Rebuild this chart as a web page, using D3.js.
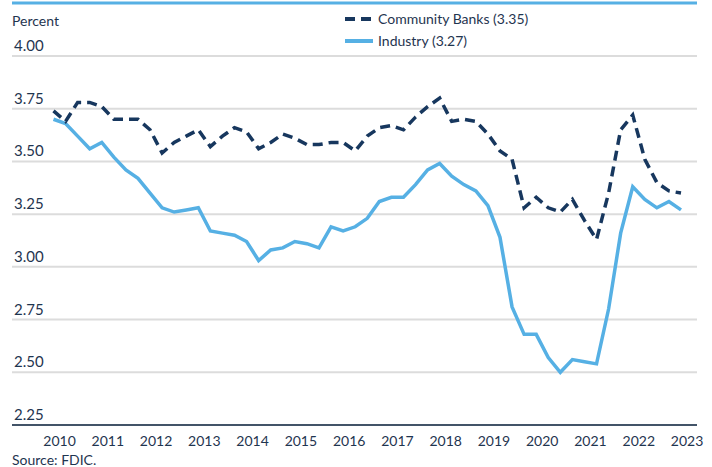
<!DOCTYPE html>
<html>
<head>
<meta charset="utf-8">
<script src="https://cdn.jsdelivr.net/npm/d3@7"></script>
<style>
  body { margin: 0; background: #fff; }
  svg { display: block; font-family: Lato, "Open Sans", sans-serif; }
</style>
</head>
<body>
<svg></svg>
<script>
// net interest margin, quarterly, 2010Q4 - 2023Q4
const quarters = [
  "2010Q4",
  "2011Q1","2011Q2","2011Q3","2011Q4","2012Q1","2012Q2","2012Q3","2012Q4",
  "2013Q1","2013Q2","2013Q3","2013Q4","2014Q1","2014Q2","2014Q3","2014Q4",
  "2015Q1","2015Q2","2015Q3","2015Q4","2016Q1","2016Q2","2016Q3","2016Q4",
  "2017Q1","2017Q2","2017Q3","2017Q4","2018Q1","2018Q2","2018Q3","2018Q4",
  "2019Q1","2019Q2","2019Q3","2019Q4","2020Q1","2020Q2","2020Q3","2020Q4",
  "2021Q1","2021Q2","2021Q3","2021Q4","2022Q1","2022Q2","2022Q3","2022Q4",
  "2023Q1","2023Q2","2023Q3","2023Q4"
];

const communityBanks = [
  3.74, 3.69, 3.78, 3.78, 3.76, 3.70, 3.70, 3.70, 3.65, 3.54,
  3.59, 3.62, 3.65, 3.57, 3.62, 3.66, 3.64, 3.56, 3.59, 3.63,
  3.61, 3.58, 3.58, 3.59, 3.59, 3.55, 3.62, 3.66, 3.67, 3.65,
  3.71, 3.76, 3.80, 3.69, 3.70, 3.69, 3.63, 3.55, 3.51, 3.28,
  3.33, 3.28, 3.26, 3.32, 3.22, 3.13, 3.35, 3.65, 3.72, 3.51,
  3.40, 3.36, 3.35
];

const industry = [
  3.70, 3.68, 3.62, 3.56, 3.59, 3.52, 3.46, 3.42, 3.35, 3.28,
  3.26, 3.27, 3.28, 3.17, 3.16, 3.15, 3.12, 3.03, 3.08, 3.09,
  3.12, 3.11, 3.09, 3.19, 3.17, 3.19, 3.23, 3.31, 3.33, 3.33,
  3.39, 3.46, 3.49, 3.43, 3.39, 3.36, 3.29, 3.14, 2.81, 2.68,
  2.68, 2.57, 2.50, 2.56, 2.55, 2.54, 2.80, 3.16, 3.38, 3.32,
  3.28, 3.31, 3.27
];

const years = [2010, 2011, 2012, 2013, 2014, 2015, 2016, 2017, 2018, 2019, 2020, 2021, 2022, 2023];
const yTicks = [2.25, 2.50, 2.75, 3.00, 3.25, 3.50, 3.75, 4.00];

const width = 712, height = 467;
const navy = "#17375e";
const lightBlue = "#56b0e4";
const textColor = "#1f3550";

const svg = d3.select("svg")
  .attr("width", width)
  .attr("height", height);

const left = 12, right = 697;

const x = d3.scalePoint()
  .domain(quarters)
  .range([53.5, 681]);

const y = d3.scaleLinear()
  .domain([2.25, 4.00])
  .range([425, 56]);

// top rule
svg.append("line")
  .attr("x1", left).attr("x2", right)
  .attr("y1", 3).attr("y2", 3)
  .attr("stroke", lightBlue)
  .attr("stroke-width", 3);

// gridlines
svg.selectAll(".grid")
  .data(yTicks.filter(d => d > 2.25))
  .enter().append("line")
  .attr("class", "grid")
  .attr("x1", left).attr("x2", right)
  .attr("y1", d => y(d)).attr("y2", d => y(d))
  .attr("stroke", "#dcdcdc")
  .attr("stroke-width", 2);

// y labels sit above their gridline
svg.selectAll(".ylab")
  .data(yTicks)
  .enter().append("text")
  .attr("class", "ylab")
  .attr("x", 14)
  .attr("y", d => y(d) - 5)
  .attr("font-size", 15)
  .attr("fill", textColor)
  .text(d => d3.format(".2f")(d));

// bottom axis line
svg.append("line")
  .attr("x1", left).attr("x2", right)
  .attr("y1", y(2.25)).attr("y2", y(2.25))
  .attr("stroke", "#435468")
  .attr("stroke-width", 2);

// year labels, between Q4 and the next Q1
svg.selectAll(".xlab")
  .data(years)
  .enter().append("text")
  .attr("class", "xlab")
  .attr("x", d => x(d + "Q4") + x.step() / 2)
  .attr("y", 446)
  .attr("text-anchor", "middle")
  .attr("font-size", 14)
  .attr("fill", textColor)
  .text(d => d);

const line = d3.line()
  .x((d, i) => x(quarters[i]))
  .y(d => y(d));

svg.append("path")
  .datum(industry)
  .attr("d", line)
  .attr("fill", "none")
  .attr("stroke", lightBlue)
  .attr("stroke-width", 3.5)
  .attr("stroke-linejoin", "miter");

svg.append("path")
  .datum(communityBanks)
  .attr("d", line)
  .attr("fill", "none")
  .attr("stroke", navy)
  .attr("stroke-width", 3.5)
  .attr("stroke-dasharray", "10,6");

// Percent label
svg.append("text")
  .attr("x", 12)
  .attr("y", 26)
  .attr("font-size", 14)
  .attr("fill", textColor)
  .text("Percent");

// legend
const legend = svg.append("g").attr("transform", "translate(345, 0)");
legend.append("line")
  .attr("x1", 0).attr("x2", 28)
  .attr("y1", 19).attr("y2", 19)
  .attr("stroke", navy)
  .attr("stroke-width", 4)
  .attr("stroke-dasharray", "10,6");
legend.append("text")
  .attr("x", 33).attr("y", 24)
  .attr("font-size", 14)
  .attr("fill", textColor)
  .text("Community Banks (3.35)");
legend.append("line")
  .attr("x1", 0).attr("x2", 28)
  .attr("y1", 41).attr("y2", 41)
  .attr("stroke", lightBlue)
  .attr("stroke-width", 4);
legend.append("text")
  .attr("x", 33).attr("y", 46)
  .attr("font-size", 14)
  .attr("fill", textColor)
  .text("Industry (3.27)");

// source
svg.append("text")
  .attr("x", 12)
  .attr("y", 465)
  .attr("font-size", 14)
  .attr("fill", textColor)
  .text("Source: FDIC.");
</script>
</body>
</html>
